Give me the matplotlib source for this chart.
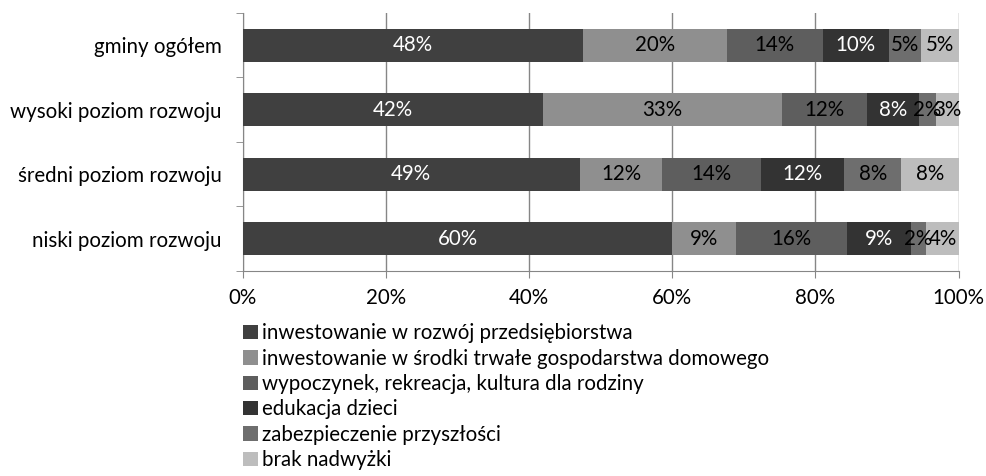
import matplotlib.pyplot as plt
import numpy as np
from matplotlib.patches import Patch

plt.rcParams['font.family'] = ['Lato', 'DejaVu Sans']

categories = ["gminy ogółem", "wysoki poziom rozwoju", "średni poziom rozwoju", "niski poziom rozwoju"]
series = ["inwestowanie w rozwój przedsiębiorstwa",
          "inwestowanie w środki trwałe gospodarstwa domowego",
          "wypoczynek, rekreacja, kultura dla rodziny",
          "edukacja dzieci",
          "zabezpieczenie przyszłości",
          "brak nadwyżki"]
# bar widths (share of 100%), one list per category
shares = [
    [47.5, 20.1, 13.4, 9.3, 4.5, 5.2],
    [41.9, 33.4, 11.9, 7.3, 2.3, 3.2],
    [47.1, 11.5, 13.8, 11.6, 8.0, 8.0],
    [60.0, 8.9, 15.5, 8.9, 2.2, 4.5],
]
# printed labels
labels = [
    [48, 20, 14, 10, 5, 5],
    [42, 33, 12, 8, 2, 3],
    [49, 12, 14, 12, 8, 8],
    [60, 9, 16, 9, 2, 4],
]
colors = ["#404040", "#8f8f8f", "#5e5e5e", "#333333", "#6e6e6e", "#bdbdbd"]
txt_colors = ["white", "black", "black", "white", "black", "black"]

fs = 14.8
fig = plt.figure(figsize=(9.87, 4.76), dpi=100)
ax = fig.add_axes([0.2459, 0.4307, 0.7254, 0.542])

sh = np.array(shares)
y = np.arange(len(categories))
left = np.zeros(len(categories))
for j in range(len(series)):
    ax.barh(y, sh[:, j], left=left, height=0.51, color=colors[j], zorder=3)
    for i in range(len(categories)):
        ax.text(left[i] + sh[i, j] / 2, y[i], f"{labels[i][j]}%", ha="center", va="center",
                color=txt_colors[j], fontsize=fs, zorder=4)
    left += sh[:, j]

ax.set_xlim(0, 100)
ax.set_ylim(3.5, -0.5)
ax.set_xticks(np.arange(0, 101, 20))
ax.set_xticklabels([f"{v}%" for v in range(0, 101, 20)], fontsize=fs)
ax.set_yticks(y)
ax.set_yticklabels(categories, fontsize=fs)
ax.set_yticks(np.arange(-0.5, 4, 1), minor=True)
ax.tick_params(axis="y", which="major", length=0, pad=15)
ax.tick_params(axis="y", which="minor", length=5, color="#868686", direction="out")
ax.tick_params(axis="x", length=5, color="#868686", pad=7)
ax.grid(axis="x", color="#868686", linewidth=1, zorder=0)
for s in ["top", "right"]:
    ax.spines[s].set_visible(False)
for s in ["left", "bottom"]:
    ax.spines[s].set_color("#868686")

handles = [Patch(facecolor=c, edgecolor="none") for c in colors]
fig.legend(handles, series, loc="upper left", bbox_to_anchor=(0.238, 0.338), frameon=False,
           fontsize=fs, handlelength=0.7, handleheight=0.7, handletextpad=0.2,
           labelspacing=0.26, borderaxespad=0)

fig.savefig("out.png", dpi=100)
